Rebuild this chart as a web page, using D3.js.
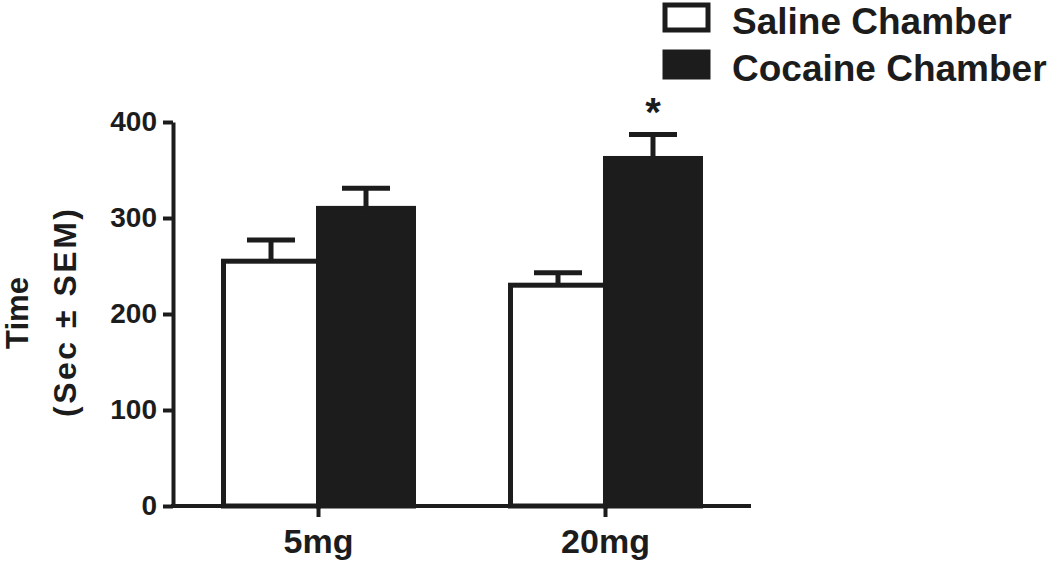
<!DOCTYPE html>
<html>
<head>
<meta charset="utf-8">
<script src="https://cdn.jsdelivr.net/npm/d3@7"></script>
<style>
  body { margin: 0; background: #fff; }
  svg text { font-family: "Liberation Sans", Arial, sans-serif; font-weight: bold; fill: #1c1c1c; }
</style>
</head>
<body>
<svg id="chart" width="1050" height="563"></svg>
<script>
// Data
const doses = ["5mg", "20mg"];
const chambers = ["Saline Chamber", "Cocaine Chamber"];
const salineMeans = [255, 230];
const salineSEM = [22, 13];
const cocaineMeans = [310, 362];
const cocaineSEM = [21, 25];
const yTicks = [0, 100, 200, 300, 400];
const significant = [false, true]; // asterisk over cocaine bar

const ink = "#1c1c1c";
const lw = 5;

// Build rows for drawing
const rows = [];
doses.forEach((d, i) => {
  rows.push({ dose: d, chamber: chambers[0], mean: salineMeans[i], sem: salineSEM[i], star: false });
  rows.push({ dose: d, chamber: chambers[1], mean: cocaineMeans[i], sem: cocaineSEM[i], star: significant[i] });
});

const svg = d3.select("#chart");

// Plot area in pixels
const x0 = 173, x1 = 751, yBottom = 506, yTop = 122;

const xScale = d3.scaleBand()
  .domain(doses)
  .range([x0, x1])
  .paddingInner(0.338)
  .paddingOuter(0.176);

const xInner = d3.scaleBand()
  .domain(chambers)
  .range([0, xScale.bandwidth()]);

const yScale = d3.scaleLinear()
  .domain([0, 400])
  .range([yBottom, yTop]);

const fillFor = c => c === chambers[0] ? "#fff" : ink;

// Bars
svg.append("g").selectAll("rect")
  .data(rows)
  .enter().append("rect")
  .attr("x", d => xScale(d.dose) + xInner(d.chamber))
  .attr("y", d => yScale(d.mean))
  .attr("width", xInner.bandwidth())
  .attr("height", d => yBottom - yScale(d.mean))
  .attr("fill", d => fillFor(d.chamber))
  .attr("stroke", ink)
  .attr("stroke-width", lw);

// Error bars (upper only)
const capW = 48;
const err = svg.append("g").attr("stroke", ink).attr("stroke-width", lw);
rows.forEach(d => {
  const cx = xScale(d.dose) + xInner(d.chamber) + xInner.bandwidth() / 2;
  err.append("line")
    .attr("x1", cx).attr("x2", cx)
    .attr("y1", yScale(d.mean)).attr("y2", yScale(d.mean + d.sem));
  err.append("line")
    .attr("x1", cx - capW / 2).attr("x2", cx + capW / 2)
    .attr("y1", yScale(d.mean + d.sem)).attr("y2", yScale(d.mean + d.sem));
  if (d.star) {
    svg.append("text")
      .attr("x", cx)
      .attr("y", yScale(d.mean + d.sem) - 8)
      .attr("text-anchor", "middle")
      .style("font-size", "40px")
      .text("*");
  }
});

// Y axis
const yAxis = svg.append("g")
  .attr("transform", "translate(" + x0 + ",0)")
  .call(d3.axisLeft(yScale).tickValues(yTicks).tickSize(10).tickSizeOuter(0).tickPadding(6));
yAxis.select(".domain").attr("stroke", ink).attr("stroke-width", lw - 1);
yAxis.selectAll(".tick line").attr("stroke", ink).attr("stroke-width", lw - 1);
yAxis.selectAll("text").style("font-size", "28px").attr("fill", ink)
  .style("font-family", "'Liberation Sans', Arial, sans-serif").style("font-weight", "bold");

// X axis
const xAxis = svg.append("g")
  .attr("transform", "translate(0," + yBottom + ")")
  .call(d3.axisBottom(xScale).tickSize(11).tickSizeOuter(0).tickPadding(12));
xAxis.select(".domain").attr("stroke", ink).attr("stroke-width", lw - 1)
  .attr("d", "M" + (x0 - 2) + ",0H" + x1);
xAxis.selectAll(".tick line").attr("stroke", ink).attr("stroke-width", lw - 1);
xAxis.selectAll("text").style("font-size", "34px").attr("fill", ink)
  .style("font-family", "'Liberation Sans', Arial, sans-serif").style("font-weight", "bold");

// Y axis title
const yTitle = svg.append("text")
  .attr("transform", "translate(0,313) rotate(-90)")
  .attr("text-anchor", "middle");
yTitle.append("tspan").attr("x", 0).attr("y", 28)
  .style("font-size", "31px").text("Time");
yTitle.append("tspan").attr("x", 0).attr("y", 76)
  .style("font-size", "32px")
  .attr("textLength", 208).attr("lengthAdjust", "spacing")
  .text("(Sec \u00B1 SEM)");

// Legend
const legend = svg.append("g").attr("transform", "translate(665,0)");
chambers.forEach((c, i) => {
  const g = legend.append("g").attr("transform", "translate(0," + (i * 47) + ")");
  g.append("rect")
    .attr("x", 0).attr("y", 5)
    .attr("width", 43).attr("height", 25)
    .attr("fill", fillFor(c))
    .attr("stroke", ink)
    .attr("stroke-width", lw);
  g.append("text")
    .attr("x", 67).attr("y", 34)
    .style("font-size", "37px")
    .text(c);
});
</script>
</body>
</html>
